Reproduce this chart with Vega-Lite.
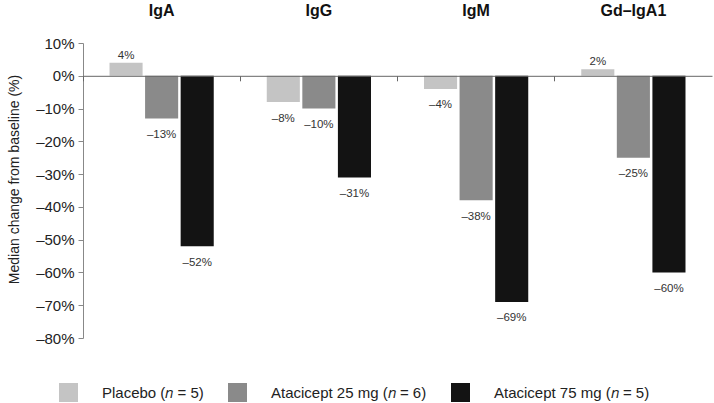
{
  "$schema": "https://vega.github.io/schema/vega-lite/v6.json",
  "width": 629,
  "height": 295,
  "autosize": {"type": "none"},
  "padding": {"left": 83, "top": 43, "right": 2, "bottom": 65},
  "config": {"font": "Liberation Sans", "view": {"stroke": null}},
  "data": {
    "values": [
      {"group": "IgA", "treatment": "Placebo (𝑛 = 5)", "value": 4},
      {"group": "IgA", "treatment": "Atacicept 25 mg (𝑛 = 6)", "value": -13},
      {"group": "IgA", "treatment": "Atacicept 75 mg (𝑛 = 5)", "value": -52},
      {"group": "IgG", "treatment": "Placebo (𝑛 = 5)", "value": -8},
      {"group": "IgG", "treatment": "Atacicept 25 mg (𝑛 = 6)", "value": -10},
      {"group": "IgG", "treatment": "Atacicept 75 mg (𝑛 = 5)", "value": -31},
      {"group": "IgM", "treatment": "Placebo (𝑛 = 5)", "value": -4},
      {"group": "IgM", "treatment": "Atacicept 25 mg (𝑛 = 6)", "value": -38},
      {"group": "IgM", "treatment": "Atacicept 75 mg (𝑛 = 5)", "value": -69},
      {"group": "Gd–IgA1", "treatment": "Placebo (𝑛 = 5)", "value": 2},
      {"group": "Gd–IgA1", "treatment": "Atacicept 25 mg (𝑛 = 6)", "value": -25},
      {"group": "Gd–IgA1", "treatment": "Atacicept 75 mg (𝑛 = 5)", "value": -60}
    ]
  },
  "transform": [
    {"calculate": "(datum.value < 0 ? '–' : '') + abs(datum.value) + '%'", "as": "label"}
  ],
  "encoding": {
    "xOffset": {
      "field": "treatment",
      "type": "nominal",
      "sort": ["Placebo (𝑛 = 5)", "Atacicept 25 mg (𝑛 = 6)", "Atacicept 75 mg (𝑛 = 5)"],
      "scale": {"paddingInner": 0.07, "paddingOuter": 0.745}
    },
    "y": {
      "field": "value",
      "type": "quantitative",
      "scale": {"domain": [-80, 10], "nice": false, "zero": false},
      "axis": {
        "title": "Median change from baseline (%)",
        "titleFontSize": 14,
        "titleFontWeight": "normal",
        "titleColor": "#222",
        "titlePadding": 14,
        "titleY": 136,
        "values": [-80, -70, -60, -50, -40, -30, -20, -10, 0, 10],
        "labelExpr": "(datum.value < 0 ? '–' + abs(datum.value) : datum.value) + '%'",
        "labelFontSize": 15,
        "labelColor": "#222",
        "labelPadding": 4,
        "tickSize": 5,
        "tickColor": "#888",
        "domainColor": "#888",
        "grid": false
      }
    }
  },
  "layer": [
    {
      "mark": {"type": "bar"},
      "encoding": {
        "x": {
          "field": "group",
          "type": "nominal",
          "sort": ["IgA", "IgG", "IgM", "Gd–IgA1"],
          "scale": {"paddingInner": 0, "paddingOuter": 0},
          "axis": {
            "orient": "top",
            "title": null,
            "domain": false,
            "ticks": false,
            "tickSize": 0,
            "labelPadding": 25,
            "labelFontSize": 16,
            "labelFontWeight": "bold",
            "labelColor": "#111",
            "labelAngle": 0
          }
        },
        "color": {
          "field": "treatment",
          "type": "nominal",
          "scale": {
            "domain": ["Placebo (𝑛 = 5)", "Atacicept 25 mg (𝑛 = 6)", "Atacicept 75 mg (𝑛 = 5)"],
            "range": ["#c4c4c4", "#8a8a8a", "#131313"]
          },
          "legend": {
            "orient": "none",
            "legendX": -24,
            "legendY": 340,
            "direction": "horizontal",
            "title": null,
            "symbolType": "square",
            "symbolSize": 361,
            "symbolStrokeWidth": 0,
            "symbolOpacity": 1,
            "labelFontSize": 15,
            "labelOffset": 24,
            "columnPadding": 24,
            "padding": 0,
            "labelColor": "#222",
            "labelLimit": 400
          }
        }
      }
    },
    {
      "transform": [{"filter": "datum.value > 0"}],
      "mark": {"type": "text", "dy": -7, "baseline": "middle", "fontSize": 11.5, "fill": "#333"},
      "encoding": {
        "x": {"field": "group", "type": "nominal", "sort": ["IgA", "IgG", "IgM", "Gd–IgA1"], "axis": null},
        "text": {"field": "label"}
      }
    },
    {
      "transform": [{"filter": "datum.value < 0"}],
      "mark": {"type": "text", "dy": 16.5, "baseline": "middle", "fontSize": 11.5, "fill": "#333"},
      "encoding": {
        "x": {
          "field": "group",
          "type": "nominal",
          "sort": ["IgA", "IgG", "IgM", "Gd–IgA1"],
          "axis": {
            "orient": "bottom",
            "offset": -262.2,
            "labels": false,
            "title": null,
            "domain": true,
            "domainColor": "#666",
            "ticks": true,
            "tickSize": 5,
            "tickColor": "#666",
            "bandPosition": 0,
            "zindex": 1
          }
        },
        "text": {"field": "label"}
      }
    }
  ],
  "resolve": {"axis": {"x": "independent"}}
}
